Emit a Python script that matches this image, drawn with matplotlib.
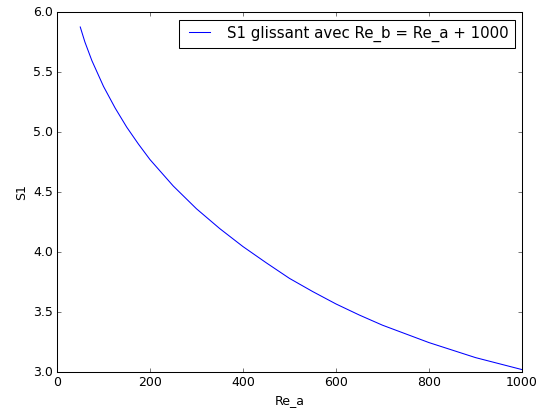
import matplotlib
matplotlib.use("Agg")
import matplotlib.pyplot as plt

# values
re_a = [50, 60, 75, 100, 125, 150, 175, 200, 250, 300, 350, 400, 450, 500,
        550, 600, 650, 700, 800, 900, 1000]
s1 = [5.875, 5.75, 5.595, 5.38, 5.20, 5.04, 4.90, 4.77, 4.55, 4.36, 4.195, 4.045,
      3.91, 3.78, 3.67, 3.567, 3.475, 3.39, 3.245, 3.12, 3.02]

plt.style.use("classic")

DPI = 75
fig = plt.figure(figsize=(543 / DPI, 412 / DPI), dpi=DPI)
ax = fig.add_axes([57 / 543, 1 - 372 / 412, 465 / 543, 360 / 412])

ax.plot(re_a, s1, "b-", label="S1 glissant avec Re_b = Re_a + 1000")
ax.set_xlim(0, 1000)
ax.set_ylim(3.0, 6.0)
ax.set_xlabel("Re_a")
ax.set_ylabel("S1")
ax.legend(loc="upper right")

fig.savefig("out.png", dpi=DPI)
